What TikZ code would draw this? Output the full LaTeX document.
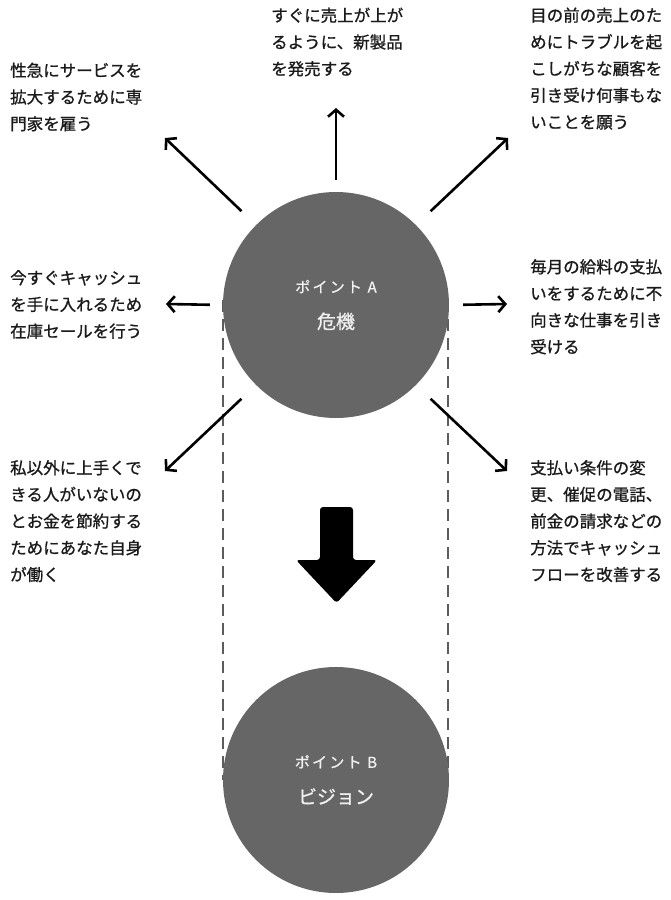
\documentclass[tikz,border=0pt]{standalone}
\usepackage{fontspec}
\setmainfont{Noto Sans CJK JP}[FakeBold=0.9]
\usetikzlibrary{arrows.meta}
\definecolor{disc}{HTML}{666666}
\definecolor{ink}{HTML}{1A1A1A}

\begin{document}
\begin{tikzpicture}[x=1pt, y=-1pt,
  note/.style={anchor=base west, inner sep=0pt, align=left, text=ink, font=\fontsize{16.5}{26.7}\selectfont},
  ray/.style={line width=2.6pt, -{Straight Barb[length=7pt,width=16pt]}},
  point/.style={circle, fill=disc, minimum size=226pt, inner sep=0pt, align=center, text=white!94!black, font=\fontsize{19}{36}\selectfont},
  guide/.style={disc!90!black, line width=2.8pt, dash pattern=on 12pt off 7pt}]
\useasboundingbox (0,0) rectangle (670,900);

% Dashed guides behind the two points
\draw[guide] (223,300) -- (223,780);
\draw[guide] (448,300) -- (448,780);

% Point A and point B
\node[point] (crisis) at (336,305) {{\fontsize{15}{36}\selectfont\addfontfeature{LetterSpace=15}ポイント A}\\危機};
\node[point] (vision) at (336,780) {{\fontsize{15}{36}\selectfont\addfontfeature{LetterSpace=15}ポイント B}\\ビジョン};

% Options around point A (placed by the base of their last line)
\node[note] (hire) at (10,130) {性急にサービスを\\拡大するために専\\門家を雇う};
\node[note] (launch) at (271,75) {すぐに売上が上が\\るように、新製品\\を発売する};
\node[note] (endure) at (530,128.3) {目の前の売上のた\\めにトラブルを起\\こしがちな顧客を\\引き受け何事もな\\いことを願う};
\node[note] (sale) at (10,337.4) {今すぐキャッシュ\\を手に入れるため\\在庫セールを行う};
\node[note] (job) at (530,353.1) {毎月の給料の支払\\いをするために不\\向きな仕事を引き\\受ける};
\node[note] (self) at (10,580.8) {私以外に上手くで\\きる人がいないの\\とお金を節約する\\ためにあなた自身\\が働く};
\node[note] (terms) at (530,580.8) {支払い条件の変\\更、催促の電話、\\前金の請求などの\\方法でキャッシュ\\フローを改善する};

% Arrow ends
\coordinate (hire-end) at (165,138);
\coordinate (launch-end) at (336,108);
\coordinate (endure-end) at (508,138);
\coordinate (sale-end) at (166,304);
\coordinate (job-end) at (507,304);
\coordinate (self-end) at (165,471);
\coordinate (terms-end) at (507,471);

% Arrows out of point A
\draw[ray, shorten <=20pt] (crisis.135) -- (hire-end);
\draw[ray, shorten <=12pt] (crisis.north) -- (launch-end);
\draw[ray, shorten <=20pt] (crisis.45) -- (endure-end);
\draw[ray, shorten <=13pt] (crisis.west) -- (sale-end);
\draw[ray, shorten <=14pt] (crisis.east) -- (job-end);
\draw[ray, shorten <=20pt] (crisis.-135) -- (self-end);
\draw[ray, shorten <=20pt] (crisis.-45) -- (terms-end);

% Block arrow from A to B
\fill[black, rounded corners=3pt] (320,507) -- (353,507) -- (353,560) -- (377,560) -- (336.5,603) -- (296,560) -- (320,560) -- cycle;
\end{tikzpicture}
\end{document}
